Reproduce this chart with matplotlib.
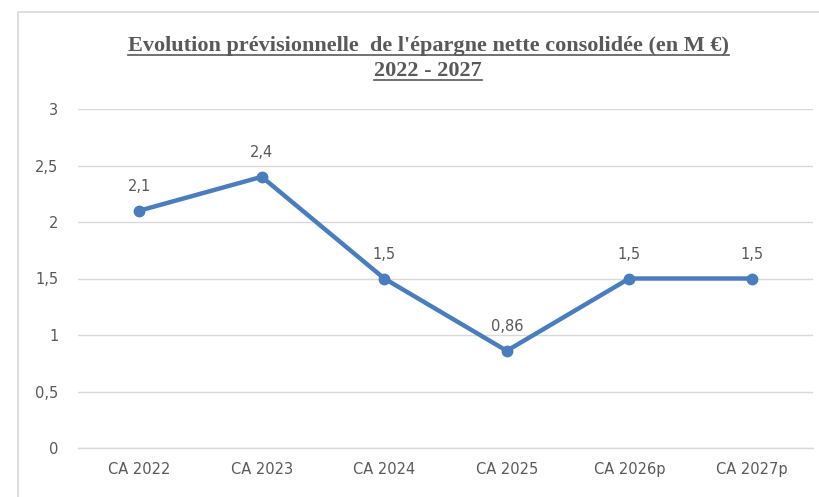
import matplotlib.pyplot as plt
from matplotlib.lines import Line2D
from matplotlib.patches import Rectangle

# categories and values (M EUR)
categories = ["CA 2022", "CA 2023", "CA 2024", "CA 2025", "CA 2026p", "CA 2027p"]
values = [2.1, 2.4, 1.5, 0.86, 1.5, 1.5]
labels = ["2,1", "2,4", "1,5", "0,86", "1,5", "1,5"]
yticks = [0, 0.5, 1, 1.5, 2, 2.5, 3]
ytick_labels = ["0", "0,5", "1", "1,5", "2", "2,5", "3"]

title_lines = ["Evolution prévisionnelle  de l'épargne nette consolidée (en M €)",
               "2022 - 2027"]

grey = "#595959"
blue = "#4A7DBE"

W, H = 819, 497
fig = plt.figure(figsize=(W / 100, H / 100), dpi=100)

# outer chart border (runs off the right and bottom edges)
fig.patches.append(Rectangle((18 / W, -0.1), 1, 1.1 - 12 / H, transform=fig.transFigure,
                             fill=False, edgecolor="#d9d9d9", linewidth=1.2))

ax = fig.add_axes([78 / W, 1 - 448 / H, (813 - 78) / W, (448 - 109) / H])
x = list(range(len(categories)))
ax.plot(x, values, color=blue, linewidth=3.2, marker="o", markersize=7.5, zorder=3)
for xi, v, lab in zip(x, values, labels):
    ax.annotate(lab, (xi, v), xytext=(0, 12), textcoords="offset points",
                ha="center", va="bottom", color=grey, fontsize=10.5)

ax.set_xlim(-0.5, len(categories) - 0.5)
ax.set_ylim(0, 3)
ax.set_yticks(yticks)
ax.set_yticklabels(ytick_labels)
ax.set_xticks(x)
ax.set_xticklabels(categories)
ax.tick_params(length=0, colors=grey, labelsize=10.5)
ax.tick_params(axis="y", pad=14)
ax.tick_params(axis="x", pad=10)
ax.grid(axis="y", color="#d9d9d9", linewidth=1)
ax.set_axisbelow(True)
for s in ["top", "right", "left"]:
    ax.spines[s].set_visible(False)
ax.spines["bottom"].set_color("#d9d9d9")
ax.spines["bottom"].set_linewidth(1)

# underlined title
renderer = fig.canvas.get_renderer()
for i, line in enumerate(title_lines):
    t = fig.text(428 / W, 1 - (51 + 25 * i) / H, line, ha="center", va="baseline",
                 fontsize=16, fontweight="bold", family="Liberation Serif", color=grey)
    bb = t.get_window_extent(renderer)
    fig.lines.append(Line2D([bb.x0 / W, bb.x1 / W], [1 - (55 + 25 * i) / H] * 2,
                            transform=fig.transFigure, color=grey, linewidth=1.2))

fig.savefig("out.png", dpi=100)
